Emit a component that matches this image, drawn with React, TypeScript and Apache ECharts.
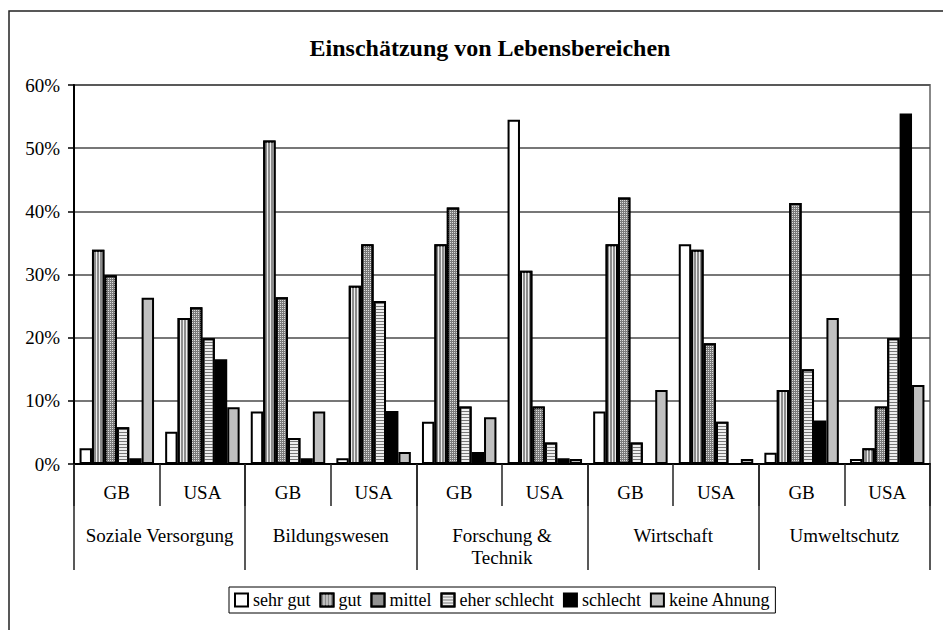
import React, { useEffect, useRef } from "react";
import * as echarts from "echarts";

const categories = ["GB", "USA", "GB", "USA", "GB", "USA", "GB", "USA", "GB", "USA"];
const groups = ["Soziale Versorgung", "Bildungswesen", "Forschung &\nTechnik", "Wirtschaft", "Umweltschutz"];
const yTicks = [0, 10, 20, 30, 40, 50, 60];

const sehrGut = [2.5, 5.1, 8.3, 0.9, 6.7, 54.5, 8.3, 34.8, 1.8, 0.8];
const gut = [33.9, 23.1, 51.2, 28.2, 34.8, 30.6, 34.8, 33.9, 11.7, 2.5];
const mittel = [29.9, 24.8, 26.4, 34.8, 40.6, 9.1, 42.2, 19.1, 41.3, 9.1];
const eherSchlecht = [5.8, 19.9, 4.1, 25.8, 9.1, 3.4, 3.4, 6.7, 15.0, 19.9];
const schlecht = [0.9, 16.6, 0.9, 8.4, 1.9, 0.9, 0, 0, 6.9, 55.5];
const keineAhnung = [26.3, 9.0, 8.3, 1.9, 7.4, 0.8, 11.7, 0.8, 23.1, 12.5];

const FONT = "'Liberation Serif', 'Times New Roman', serif";

export default function App() {
  const ref = useRef<HTMLDivElement>(null);
  useEffect(() => {
    if (!ref.current) return;
    const chart = echarts.init(ref.current, undefined, { renderer: "svg" });
    const border = { borderColor: "#000", borderWidth: 2 };
    const mk = (name: string, data: number[], itemStyle: any) => ({
      name,
      type: "bar",
      data,
      barGap: "0%",
      barCategoryGap: "13%",
      itemStyle: { ...border, ...itemStyle },
      emphasis: { disabled: true },
    });
    chart.setOption({
      animation: false,
      backgroundColor: "#fff",
      graphic: [
        {
          type: "rect",
          shape: { x: 9, y: 11, width: 940, height: 640 },
          style: { fill: "none", stroke: "#222", lineWidth: 1.5 },
          z: -1,
        },
        {
          type: "text",
          x: 490,
          y: 48,
          style: {
            text: "Einschätzung von Lebensbereichen",
            fontFamily: FONT,
            fontSize: 24,
            fontWeight: "bold",
            fill: "#000",
            textAlign: "center",
            textVerticalAlign: "middle",
          },
        },
      ],
      grid: {
        left: 74,
        right: 13,
        top: 85,
        bottom: 166,
        show: true,
        borderColor: "#888",
        borderWidth: 2,
        backgroundColor: "transparent",
      },
      legend: {
        left: 229,
        top: 587,
        icon: "rect",
        itemWidth: 13,
        itemHeight: 13,
        itemGap: 9,
        padding: [4, 5],
        borderColor: "#000",
        borderWidth: 1,
        selectedMode: false,
        textStyle: { fontFamily: FONT, fontSize: 18, color: "#000" },
      },
      xAxis: [
        {
          type: "category",
          data: categories,
          position: "bottom",
          axisLine: { show: true, lineStyle: { color: "#000", width: 2 } },
          axisTick: { show: true, length: 42, interval: 0, lineStyle: { color: "#222", width: 1.5 } },
          axisLabel: { interval: 0, margin: 19, fontFamily: FONT, fontSize: 19, color: "#000" },
          splitLine: { show: false },
        },
        {
          type: "category",
          data: groups,
          position: "bottom",
          axisLine: { show: false },
          axisTick: { show: true, length: 106, interval: 0, lineStyle: { color: "#222", width: 1.5 } },
          axisLabel: {
            interval: 0,
            margin: 60,
            fontFamily: FONT,
            fontSize: 19,
            color: "#000",
            lineHeight: 22,
            align: "center",
          },
          splitLine: { show: false },
        },
      ],
      yAxis: {
        type: "value",
        min: yTicks[0],
        max: yTicks[yTicks.length - 1],
        interval: 10,
        axisLine: { show: true, lineStyle: { color: "#000", width: 2 } },
        axisTick: { show: true, length: 6, lineStyle: { color: "#000", width: 1.5 } },
        axisLabel: { formatter: "{value}%", margin: 14, fontFamily: FONT, fontSize: 19, color: "#000" },
        splitLine: { show: true, lineStyle: { color: "#4a4a4a", width: 1.5 } },
      },
      series: [
        mk("sehr gut", sehrGut, { color: "#ffffff" }),
        mk("gut", gut, {
          color: "#8c8c8c",
          decal: { symbol: "rect", symbolSize: 1, color: "#eeeeee", dashArrayX: [1, 2], dashArrayY: [1, 0] },
        }),
        mk("mittel", mittel, {
          color: "#7a7a7a",
          decal: { symbol: "rect", symbolSize: 1, color: "#dddddd", dashArrayX: [1, 1], dashArrayY: [1, 1] },
        }),
        mk("eher schlecht", eherSchlecht, {
          color: "#eeeeee",
          decal: { symbol: "rect", symbolSize: 1, color: "#777777", dashArrayX: [1, 0], dashArrayY: [1, 2] },
        }),
        mk("schlecht", schlecht, { color: "#000000" }),
        mk("keine Ahnung", keineAhnung, { color: "#c0c0c0" }),
      ],
    });
    return () => chart.dispose();
  }, []);
  return (
    <div
      ref={ref}
      style={{ position: "fixed", left: 0, top: 0, width: 943, height: 630, background: "#fff" }}
    />
  );
}
